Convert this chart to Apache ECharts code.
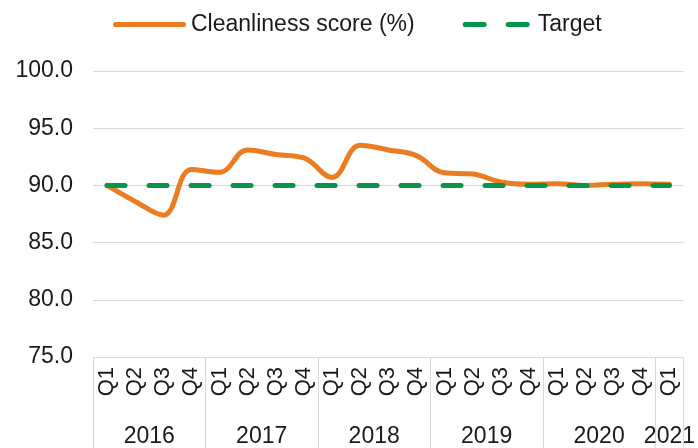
<!DOCTYPE html>
<html>
<head>
<meta charset="utf-8">
<script src="https://cdn.jsdelivr.net/npm/echarts@6/dist/echarts.min.js"></script>
<style>
  html, body { margin: 0; padding: 0; background: #fff; }
  #chart { width: 698px; height: 448px; }
</style>
</head>
<body>
<div id="chart"></div>
<script>
// Quarterly cleanliness score against the 90% target, Q1 2016 to Q1 2021
const quarters = ['Q1','Q2','Q3','Q4','Q1','Q2','Q3','Q4','Q1','Q2','Q3','Q4',
                  'Q1','Q2','Q3','Q4','Q1','Q2','Q3','Q4','Q1'];
const years = ['2016', '2017', '2018', '2019', '2020', '2021'];
const quartersPerYear = [4, 4, 4, 4, 4, 1];
const cleanliness = [90.0, 88.6, 87.4, 91.4, 91.15, 93.1, 92.7, 92.4, 90.7, 93.5, 93.1,
                     92.6, 91.1, 91.0, 90.3, 90.1, 90.15, 90.0, 90.1, 90.15, 90.1];
const target = [90, 90, 90, 90, 90, 90, 90, 90, 90, 90, 90,
                90, 90, 90, 90, 90, 90, 90, 90, 90, 90];
const yTicks = [75, 80, 85, 90, 95, 100];

// Year group boundaries and centres, in quarter units along the axis
const yearEdges = [0];
const yearCentres = [];
quartersPerYear.forEach(n => {
  const start = yearEdges[yearEdges.length - 1];
  yearCentres.push(start + n / 2);
  yearEdges.push(start + n);
});
const yearAt = v => {
  const i = yearCentres.findIndex(c => Math.abs(c - v) < 1e-6);
  return i >= 0 ? years[i] : '';
};

const ORANGE = '#EC7C22';
const GREEN = '#04944A';
const GRID = '#D9D9D9';
const TEXT = '#1a1a1a';

// Legend keys: a solid rounded bar, and two rounded dashes
const solidKey = 'path://M2.5,0 H70.5 A2.5,2.5 0 0 1 70.5,5 H2.5 A2.5,2.5 0 0 1 2.5,0 Z';
const dashedKey = 'path://M2.5,0 H21.5 A2.5,2.5 0 0 1 21.5,5 H2.5 A2.5,2.5 0 0 1 2.5,0 Z ' +
                  'M45.5,0 H64.5 A2.5,2.5 0 0 1 64.5,5 H45.5 A2.5,2.5 0 0 1 45.5,0 Z';

const chart = echarts.init(document.getElementById('chart'), null, { renderer: 'canvas' });
chart.setOption({
  animation: false,
  textStyle: { fontFamily: 'Liberation Sans, Arial, sans-serif' },
  legend: {
    left: 108,
    top: 8,
    itemWidth: 73,
    itemHeight: 5,
    itemGap: 48,
    itemStyle: { borderWidth: 0 },
    textStyle: { fontSize: 23, color: TEXT },
    data: [
      { name: 'Cleanliness score (%)', icon: solidKey, itemStyle: { color: ORANGE } },
      { name: 'Target', icon: dashedKey, itemStyle: { color: GREEN } }
    ]
  },
  grid: { left: 93, right: 11, top: 71, bottom: 90, containLabel: false },
  xAxis: [
    {
      type: 'category',
      data: quarters,
      boundaryGap: true,
      axisLine: { show: true, lineStyle: { color: GRID, width: 1 } },
      axisTick: { show: false },
      axisLabel: {
        interval: 0,
        rotate: 90,
        margin: 10,
        fontSize: 22,
        color: TEXT
      },
      splitLine: { show: false }
    },
    {
      type: 'value',
      position: 'bottom',
      min: 0,
      max: quarters.length,
      axisLine: { show: false },
      axisTick: {
        show: true,
        customValues: yearEdges,
        length: 92,
        lineStyle: { color: GRID, width: 1 }
      },
      axisLabel: {
        customValues: yearCentres,
        formatter: v => yearAt(v),
        margin: 68,
        fontSize: 23,
        color: TEXT,
        showMinLabel: true,
        showMaxLabel: true
      },
      splitLine: { show: false }
    }
  ],
  yAxis: {
    type: 'value',
    min: yTicks[0],
    max: yTicks[yTicks.length - 1],
    interval: 5,
    axisLine: { show: false },
    axisTick: { show: false },
    axisLabel: {
      formatter: v => v.toFixed(1),
      fontSize: 23,
      color: TEXT,
      margin: 20
    },
    splitLine: { show: true, lineStyle: { color: GRID, width: 1 } }
  },
  series: [
    {
      name: 'Cleanliness score (%)',
      type: 'line',
      xAxisIndex: 0,
      data: cleanliness,
      smooth: 0.4,
      symbol: 'none',
      lineStyle: { color: ORANGE, width: 5, cap: 'round', join: 'round' },
      itemStyle: { color: ORANGE },
      z: 3
    },
    {
      name: 'Target',
      type: 'line',
      xAxisIndex: 0,
      data: target,
      symbol: 'none',
      lineStyle: { color: GREEN, width: 5, type: [18, 24], cap: 'round' },
      itemStyle: { color: GREEN },
      z: 4
    }
  ]
});
</script>
</body>
</html>
